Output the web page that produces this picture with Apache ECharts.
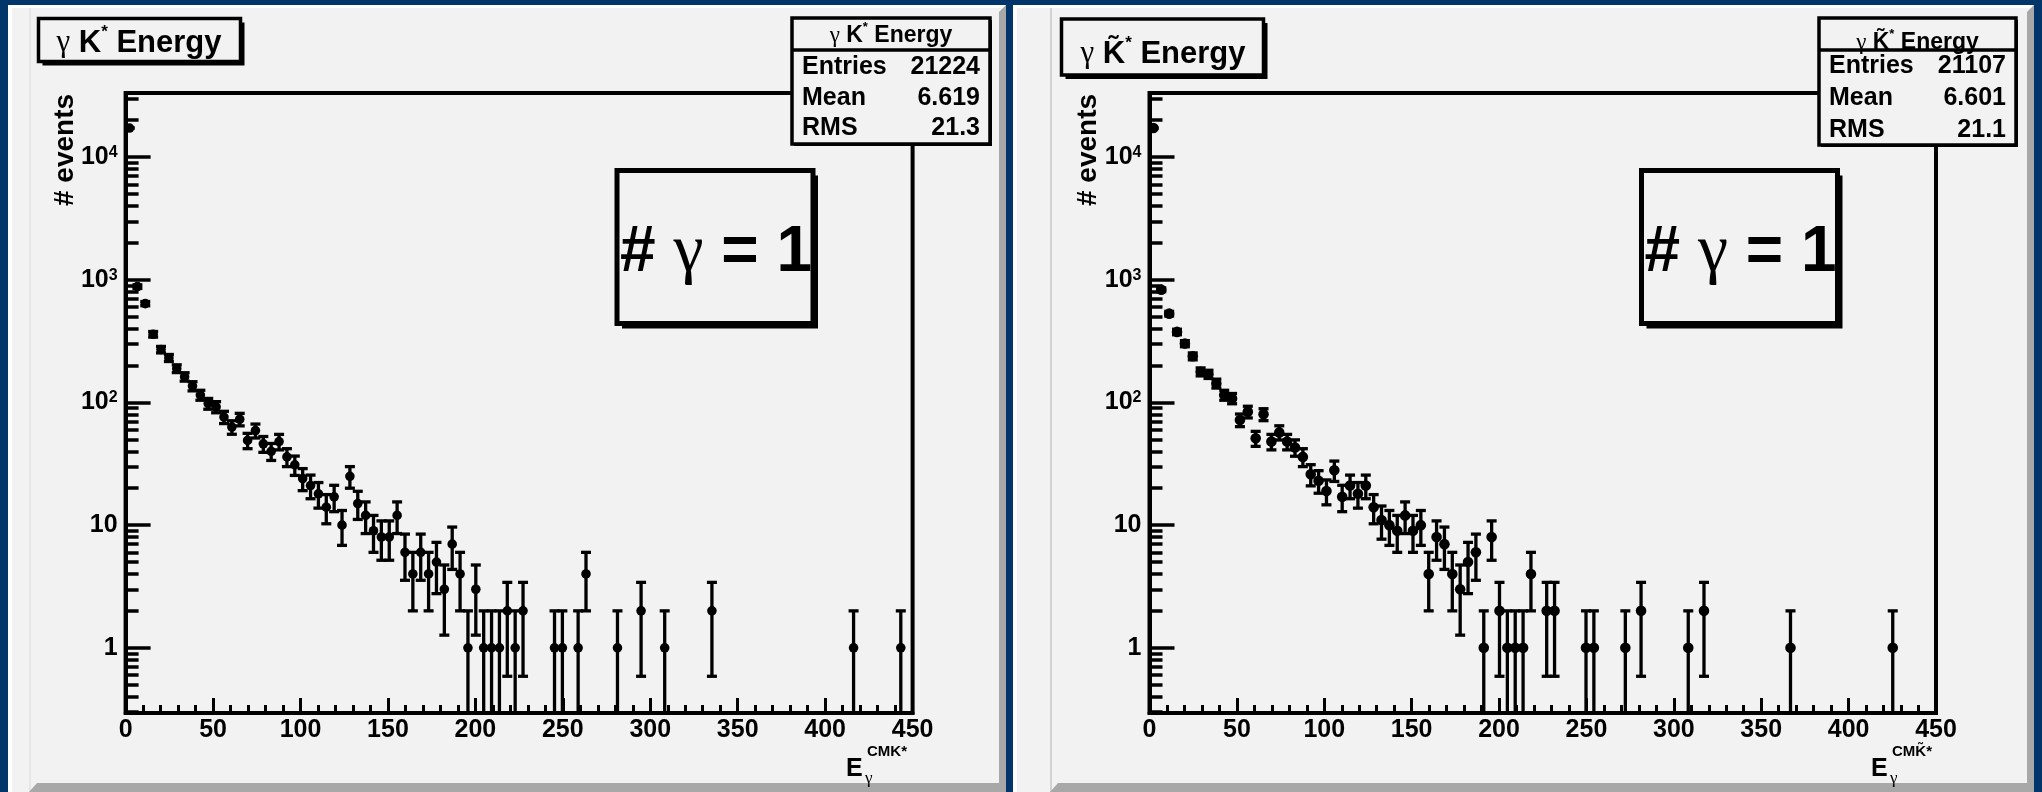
<!DOCTYPE html>
<html><head><meta charset="utf-8">
<script src="https://cdn.jsdelivr.net/npm/echarts@6/dist/echarts.min.js"></script>
<style>html,body{margin:0;padding:0;background:#02366b;overflow:hidden}#c{width:2042px;height:792px}</style>
</head><body><div id="c"></div>
<script>
// ---------------- data ----------------
const binWidth = 4.5;               // histogram bins: 100 bins from 0 to 450
const xTicks = [0, 50, 100, 150, 200, 250, 300, 350, 400, 450];
const yTickValues = [1, 10, 100, 1000, 10000];
const yTickLabels = ['1', '10', '10^2', '10^3', '10^4'];
const yMinorTicks = [0.3,0.4,0.5,0.6,0.7,0.8,0.9, 2,3,4,5,6,7,8,9, 20,30,40,50,60,70,80,90,
  200,300,400,500,600,700,800,900, 2000,3000,4000,5000,6000,7000,8000,9000, 20000,30000];
const yMin = 0.294, yMax = 33350;

// gamma K* energy (left panel), counts per bin
const countsK = [
  17271, 880, 640, 360, 270, 231, 189, 162, 136, 115,
  98, 92, 76, 63, 73, 49, 59, 46, 40, 48,
  36, 31, 24, 21, 18, 14, 17, 10, 25, 15,
  12, 9, 8, 8, 12, 6, 4, 6, 4, 5,
  3, 7, 4, 1, 3, 1, 1, 1, 2, 1,
  2, 0, 0, 0, 1, 1, 0, 1, 4, 0,
  0, 0, 1, 0, 0, 2, 0, 0, 1, 0,
  0, 0, 0, 0, 2, 0, 0, 0, 0, 0,
  0, 0, 0, 0, 0, 0, 0, 0, 0, 0,
  0, 0, 1, 0, 0, 0, 0, 0, 1, 0
];
// gamma K~* energy (right panel), counts per bin
const countsKt = [
  17281, 830, 530, 376, 302, 238, 178, 170, 143, 115,
  108, 72, 84, 51, 80, 48, 57, 48, 43, 36,
  26, 23, 19, 28, 17, 21, 18, 21, 14, 11,
  10, 9, 12, 9, 10, 4, 8, 7, 4, 3,
  5, 6, 1, 8, 2, 1, 1, 1, 4, 0,
  2, 2, 0, 0, 0, 1, 1, 0, 0, 0,
  1, 0, 2, 0, 0, 0, 0, 0, 1, 0,
  2, 0, 0, 0, 0, 0, 0, 0, 0, 0,
  0, 1, 0, 0, 0, 0, 0, 0, 0, 0,
  0, 0, 0, 0, 1, 0, 0, 0, 0, 0
];
const statsNames = ['Entries', 'Mean', 'RMS'];
const statsK = ['21224', '6.619', '21.3'];
const statsKt = ['21107', '6.601', '21.1'];

// ---------------- chart ----------------
const SANS = "'Liberation Sans', Arial, Helvetica, sans-serif";
const SERIF = "'Liberation Serif', 'DejaVu Serif', serif";
const PANEL = '#f2f2f2';
const BOLD = 'bold';

function toPoints(counts) {
  return counts.map((c, i) => [(i + 0.5) * binWidth, c]).filter(p => p[1] > 0);
}

function yFmt(v) {
  const i = yTickValues.findIndex(t => Math.abs(t - v) / t < 1e-6);
  const s = i >= 0 ? yTickLabels[i] : '';
  const m = s.split('^');
  return m.length === 2 ? '{b|' + m[0] + '}{s|' + m[1] + '}' : '{p|' + s + '}';
}

function makeRender(r) {
  return function (params, api) {
    const x = api.value(0), v = api.value(1);
    const e = Math.sqrt(v);
    const cs = params.coordSys;
    const c = api.coord([x, v]);
    const t = api.coord([x, v + e]);
    const lo = v - e;
    const b = lo > yMin ? api.coord([x, lo])[1] : cs.y + cs.height;
    const ls = { stroke: '#000', lineWidth: 3.3 };
    const ch = [
      { type: 'line', shape: { x1: c[0], y1: t[1], x2: c[0], y2: b }, style: ls },
      { type: 'line', shape: { x1: c[0] - 5, y1: t[1], x2: c[0] + 5, y2: t[1] }, style: ls }
    ];
    if (lo > yMin) ch.push({ type: 'line', shape: { x1: c[0] - 5, y1: b, x2: c[0] + 5, y2: b }, style: ls });
    ch.push({ type: 'circle', shape: { cx: c[0], cy: c[1], r: r }, style: { fill: '#000' } });
    return { type: 'group', children: ch };
  };
}

function xAxisCfg(gi) {
  return {
    type: 'value', gridIndex: gi, min: 0, max: 450, interval: 50, position: 'bottom',
    axisLine: { show: true, lineStyle: { color: '#000', width: 4 } },
    axisTick: { show: true, inside: true, length: 15, lineStyle: { color: '#000', width: 3 } },
    minorTick: { show: true, splitNumber: 5, length: 8, lineStyle: { color: '#000', width: 3 } },
    axisLabel: { show: true, customValues: xTicks, margin: 5, color: '#000', fontSize: 25, fontWeight: BOLD, fontFamily: SANS },
    splitLine: { show: false }
  };
}
function yMajorCfg(gi) {
  return {
    type: 'log', logBase: 10, gridIndex: gi, min: yMin, max: yMax, position: 'left',
    axisLine: { show: true, lineStyle: { color: '#000', width: 4 } },
    axisTick: { show: true, inside: true, length: 25, customValues: yTickValues, lineStyle: { color: '#000', width: 3.5 } },
    axisLabel: {
      show: true, customValues: yTickValues, margin: 8, color: '#000', formatter: yFmt,
      rich: {
        p: { fontSize: 25, fontWeight: BOLD, fontFamily: SANS, color: '#000' },
        b: { fontSize: 25, fontWeight: BOLD, fontFamily: SANS, color: '#000', lineHeight: 25, padding: [8, 0, 0, 0], verticalAlign: 'bottom' },
        s: { fontSize: 16, fontWeight: BOLD, fontFamily: SANS, color: '#000', lineHeight: 16, verticalAlign: 'top' }
      }
    },
    splitLine: { show: false }, minorTick: { show: false }
  };
}
function yMinorCfg(gi) {
  return {
    type: 'log', logBase: 10, gridIndex: gi, min: yMin, max: yMax, position: 'left',
    axisLine: { show: false },
    axisTick: { show: true, inside: true, length: 13, customValues: yMinorTicks, lineStyle: { color: '#000', width: 3.5 } },
    axisLabel: { show: false }, splitLine: { show: false }
  };
}

function boxWithShadow(x, y, w, h, lw, sh) {
  return [
    { type: 'rect', z: 100, shape: { x: x + sh, y: y + sh, width: w, height: h }, style: { fill: '#000' } },
    { type: 'rect', z: 101, shape: { x: x, y: y, width: w, height: h }, style: { fill: PANEL, stroke: '#000', lineWidth: lw } }
  ];
}

function panelBg(x0, x1, innerLine, lineColor) {
  return [
    { type: 'rect', z: -20, shape: { x: x0, y: 5, width: x1 - x0, height: 787 }, style: { fill: PANEL } },
    { type: 'rect', z: -19, shape: { x: x0, y: 5, width: x1 - x0, height: 3 }, style: { fill: '#ffffff' } },
    { type: 'rect', z: -19, shape: { x: x0, y: 5, width: 4, height: 787 }, style: { fill: '#ffffff' } },
    { type: 'rect', z: -19, shape: { x: innerLine, y: 8, width: 2, height: 784 }, style: { fill: lineColor } },
    { type: 'polygon', z: -18, shape: { points: [[x1 - 7, 12], [x1, 5], [x1, 792], [x1 - 7, 792]] }, style: { fill: '#a8a8a8' } },
    { type: 'polygon', z: -18, shape: { points: [[innerLine + 8, 783], [x1 - 7, 783], [x1, 792], [innerLine, 792]] }, style: { fill: '#a8a8a8' } }
  ];
}

function sansText(x, y, text, size, align, weight) {
  return { type: 'text', z: 110, x: x, y: y,
    style: { text: text, fontSize: size, fontWeight: weight || BOLD, fontFamily: SANS, fill: '#000', align: align || 'center', verticalAlign: 'middle' } };
}

function titleRich(size, supSize, lh) {
  return {
    g: { fontSize: size, fontFamily: SERIF, lineHeight: lh, verticalAlign: 'bottom' },
    n: { fontSize: size, fontWeight: BOLD, fontFamily: SANS, lineHeight: lh, verticalAlign: 'bottom' },
    s: { fontSize: supSize, fontWeight: BOLD, fontFamily: SANS, lineHeight: supSize, verticalAlign: 'top' }
  };
}

const graphics = [];
// backgrounds
graphics.push(...panelBg(8, 1006, 29, '#e6e6e6'));
graphics.push(...panelBg(1013, 2034, 1050, '#d2d2d2'));

// title boxes
graphics.push(...boxWithShadow(38.5, 18.5, 202, 43, 3.5, 4));
graphics.push({ type: 'text', z: 110, x: 139, y: 41, style: {
  text: '{g|γ}{n| K}{s|*}{n| Energy}', align: 'center', verticalAlign: 'middle', rich: titleRich(31, 17, 35) } });
graphics.push(...boxWithShadow(1061.5, 19, 202, 56, 3.5, 4));
graphics.push({ type: 'text', z: 110, x: 1163, y: 52, style: {
  text: '{g|γ}{n| K\u0303}{s|*}{n| Energy}', align: 'center', verticalAlign: 'middle', rich: titleRich(31, 17, 35) } });

// stats boxes
function statsBox(x, y, w, h, title, titleY, vals, rowsY) {
  graphics.push(...boxWithShadow(x, y, w, h, 3.5, 2));
  graphics.push({ type: 'line', z: 102, shape: { x1: x, y1: y + 32, x2: x + w, y2: y + 32 }, style: { stroke: '#000', lineWidth: 3.5 } });
  graphics.push({ type: 'text', z: 110, x: x + w / 2, y: titleY, style: {
    text: title, align: 'center', verticalAlign: 'middle', rich: titleRich(23, 13, 27) } });
  statsNames.forEach((nm, i) => {
    graphics.push(sansText(x + 10, rowsY[i], nm, 25, 'left'));
    graphics.push(sansText(x + w - 10, rowsY[i], vals[i], 25, 'right'));
  });
}
statsBox(792, 18, 198, 126, '{g|γ}{n| K}{s|*}{n| Energy}', 34, statsK, [67.5, 98, 128]);
statsBox(1819, 18, 197, 127, '{g|γ}{n| K\u0303}{s|*}{n| Energy}', 41, statsKt, [66.5, 98, 130]);

// "# gamma = 1" boxes
function nGammaBox(x) {
  graphics.push(...boxWithShadow(x, 170.5, 196, 153, 5, 5));
  graphics.push({ type: 'text', z: 110, x: x + 99, y: 253, style: {
    text: '{a|# }{g|γ}{a| = 1}', align: 'center', verticalAlign: 'middle',
    rich: { a: { fontSize: 64, fontWeight: BOLD, fontFamily: SANS }, g: { fontSize: 68, fontFamily: SERIF } } } });
}
nGammaBox(617);
nGammaBox(1641.5);

// y axis names
function yName(x) {
  const t = sansText(x, 150, '# events', 28, 'center');
  t.rotation = Math.PI / 2;
  graphics.push(t);
}
yName(65);
yName(1088);

// x axis names  E_gamma^{CMK*}
function xName(x, sup) {
  graphics.push(sansText(x, 769, 'E', 25, 'left'));
  graphics.push({ type: 'text', z: 110, x: x + 19, y: 779, style: { text: 'γ', fontSize: 17, fontFamily: SERIF, fill: '#000', align: 'left', verticalAlign: 'middle' } });
  graphics.push(sansText(x + 21, 752, sup, 15, 'left'));
}
xName(846, 'CMK*');
xName(1871, 'CMK\u0303*');

const option = {
  backgroundColor: '#02366b',
  animation: false,
  grid: [
    { left: 125.6, top: 93, width: 787, height: 620, show: true, borderColor: '#000', borderWidth: 4, backgroundColor: 'transparent' },
    { left: 1149.5, top: 93, width: 786.5, height: 620, show: true, borderColor: '#000', borderWidth: 4, backgroundColor: 'transparent' }
  ],
  xAxis: [xAxisCfg(0), xAxisCfg(1)],
  yAxis: [yMajorCfg(0), yMinorCfg(0), yMajorCfg(1), yMinorCfg(1)],
  series: [
    { type: 'custom', xAxisIndex: 0, yAxisIndex: 0, data: toPoints(countsK), encode: { x: 0, y: 1 }, renderItem: makeRender(4.8), z: 5 },
    { type: 'custom', xAxisIndex: 1, yAxisIndex: 2, data: toPoints(countsKt), encode: { x: 0, y: 1 }, renderItem: makeRender(5.3), z: 5 }
  ],
  graphic: { elements: graphics }
};
const chart = echarts.init(document.getElementById('c'), null, { renderer: 'canvas' });
chart.setOption(option);
</script>
</body></html>
